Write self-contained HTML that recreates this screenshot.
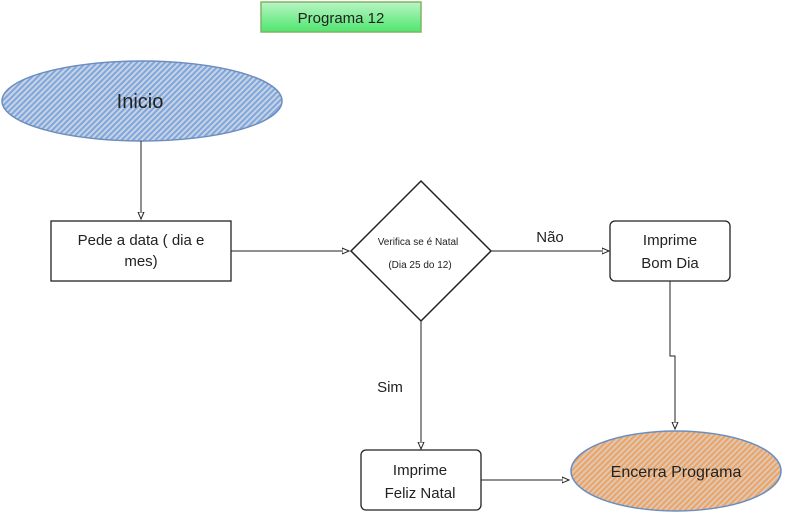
<!DOCTYPE html>
<html><head><meta charset="utf-8"><style>
html,body{margin:0;padding:0;background:#fff;width:794px;height:525px;overflow:hidden}
text{font-family:"Liberation Sans",sans-serif;fill:#222}
</style></head><body>
<svg width="794" height="525" viewBox="0 0 794 525" xmlns="http://www.w3.org/2000/svg">
<defs>
<pattern id="hb" width="4" height="4" patternUnits="userSpaceOnUse" patternTransform="rotate(45)">
<rect width="4" height="4" fill="#c9d3e0"/><rect width="2" height="4" fill="#7ea6e0"/></pattern>
<pattern id="ho" width="4" height="4" patternUnits="userSpaceOnUse" patternTransform="rotate(45)">
<rect width="4" height="4" fill="#d9c9bc"/><rect width="2" height="4" fill="#f0a25e"/></pattern>
<linearGradient id="g" x1="0" y1="0" x2="0" y2="1"><stop offset="0" stop-color="#b8f5c4"/><stop offset="1" stop-color="#4ee66e"/></linearGradient>
<marker id="a" markerWidth="8" markerHeight="8" refX="7" refY="4" orient="auto"><path d="M0,1 L7,4 L0,7 Z" fill="#fff" stroke="#222" stroke-width="1"/></marker>
</defs>
<rect x="261" y="2" width="160" height="30" fill="url(#g)" stroke="#82b366" stroke-width="1.5"/>
<text x="341" y="23" font-size="15" text-anchor="middle">Programa 12</text>
<ellipse cx="142" cy="101" rx="140" ry="40" fill="url(#hb)" stroke="#6c8ebf" stroke-width="1.5"/>
<text x="140" y="108" font-size="20" text-anchor="middle">Inicio</text>
<line x1="141" y1="141" x2="141" y2="219" stroke="#222" marker-end="url(#a)"/>
<rect x="51" y="221" width="180" height="60" fill="#fff" stroke="#222" stroke-width="1.3"/>
<text x="141" y="245" font-size="15" text-anchor="middle">Pede a data ( dia e</text>
<text x="141" y="266" font-size="15" text-anchor="middle">mes)</text>
<line x1="231" y1="251" x2="349" y2="251" stroke="#222" marker-end="url(#a)"/>
<polygon points="421,181 491,251 421,321 351,251" fill="#fff" stroke="#222" stroke-width="1.5"/>
<text x="418" y="245" font-size="10" text-anchor="middle">Verifica se é Natal</text>
<text x="420" y="268" font-size="10" text-anchor="middle">(Dia 25 do 12)</text>
<line x1="491" y1="251" x2="609" y2="251" stroke="#222" marker-end="url(#a)"/>
<text x="550" y="242" font-size="15" text-anchor="middle">Não</text>
<rect x="610" y="221" width="120" height="60" rx="5" fill="#fff" stroke="#222" stroke-width="1.3"/>
<text x="670" y="245" font-size="15" text-anchor="middle">Imprime</text>
<text x="670" y="268" font-size="15" text-anchor="middle">Bom Dia</text>
<polyline points="670,281 670,356 675,356 675,429" fill="none" stroke="#222" marker-end="url(#a)"/>
<line x1="421" y1="321" x2="421" y2="449" stroke="#222" marker-end="url(#a)"/>
<text x="390" y="392" font-size="15" text-anchor="middle">Sim</text>
<rect x="361" y="450" width="120" height="60" rx="5" fill="#fff" stroke="#222" stroke-width="1.3"/>
<text x="420" y="475" font-size="15" text-anchor="middle">Imprime</text>
<text x="420" y="498" font-size="15" text-anchor="middle">Feliz Natal</text>
<line x1="481" y1="480" x2="569" y2="480" stroke="#222" marker-end="url(#a)"/>
<ellipse cx="676" cy="471" rx="105" ry="40" fill="url(#ho)" stroke="#6c8ebf" stroke-width="1.5"/>
<text x="676" y="477" font-size="16" text-anchor="middle">Encerra Programa</text>
</svg>
</body></html>
